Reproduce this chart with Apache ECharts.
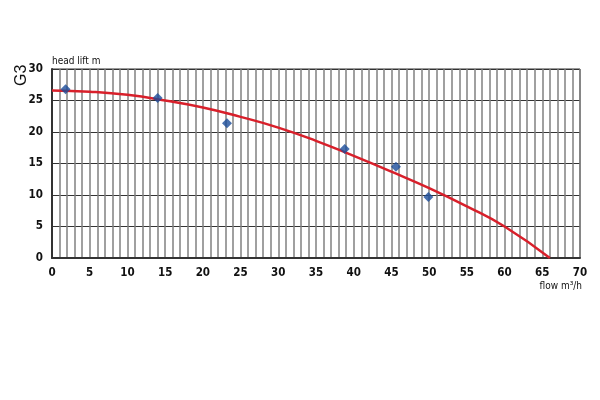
<!DOCTYPE html>
<html><head><meta charset="utf-8">
<script src="https://cdn.jsdelivr.net/npm/echarts@6/dist/echarts.min.js"></script>
<style>html,body{margin:0;padding:0;background:#fff}#c{width:600px;height:400px}</style>
</head><body><div id="c"></div>
<script>
var curveFlow = [0, 5, 10, 15, 20, 25, 30, 35, 40, 45, 50, 55, 60, 66];
var curveHead = [26.6, 26.4, 25.9, 25.0, 23.9, 22.4, 20.7, 18.6, 16.2, 13.7, 11.1, 8.2, 5.0, 0];
var measFlow = [1.8, 14.0, 23.2, 38.8, 45.6, 49.9];
var measHead = [26.8, 25.4, 21.4, 17.3, 14.5, 9.7];
var yTitle = 'head lift m';
var xTitle = 'flow m³/h';
var pumpName = 'G3';

var font = '"Liberation Sans Narrow", "DejaVu Sans Condensed", "Arial Narrow", sans-serif';
var chart = echarts.init(document.getElementById('c'));
chart.setOption({
  animation: false,
  backgroundColor: '#fff',
  grid: {left: 52, right: 20, top: 69, bottom: 142, show: true, borderColor: '#333', borderWidth: 1, backgroundColor: 'transparent'},
  xAxis: {
    type: 'value', min: 0, max: 70, interval: 1,
    axisLine: {show: true, lineStyle: {color: '#333', width: 2}},
    axisTick: {show: false},
    axisLabel: {margin: 9, color: '#111', fontFamily: font, fontWeight: 'bold', fontSize: 11.5,
      formatter: function (v) { return v % 5 === 0 ? String(v) : ''; }},
    splitLine: {show: true, lineStyle: {color: '#808080', width: 1.5}}
  },
  yAxis: {
    type: 'value', min: 0, max: 30, interval: 5,
    axisLine: {show: true, lineStyle: {color: '#333', width: 2}},
    axisTick: {show: false},
    axisLabel: {margin: 9, color: '#111', fontFamily: font, fontWeight: 'bold', fontSize: 11.5},
    splitLine: {show: true, lineStyle: {color: '#333', width: 1}}
  },
  graphic: [
    {type: 'text', left: 52, top: 56, style: {text: yTitle, fontFamily: font, fontSize: 10, fill: '#111'}},
    {type: 'text', right: 18, top: 281, style: {text: xTitle, fontFamily: font, fontSize: 10, fill: '#111'}},
    {type: 'text', x: 14, y: 86, rotation: Math.PI / 2, style: {text: pumpName, fontFamily: '"Liberation Sans", sans-serif', fontSize: 16, fill: '#111'}}
  ],
  series: [
    {type: 'line', smooth: true, symbol: 'none', z: 3,
      lineStyle: {color: '#d8202b', width: 2.5},
      data: curveFlow.map(function (q, i) { return [q, curveHead[i]]; })},
    {type: 'scatter', symbol: 'diamond', symbolSize: 10, z: 4,
      itemStyle: {color: '#1a4c9a'},
      data: measFlow.map(function (q, i) { return [q, measHead[i]]; })}
  ]
});
</script></body></html>
